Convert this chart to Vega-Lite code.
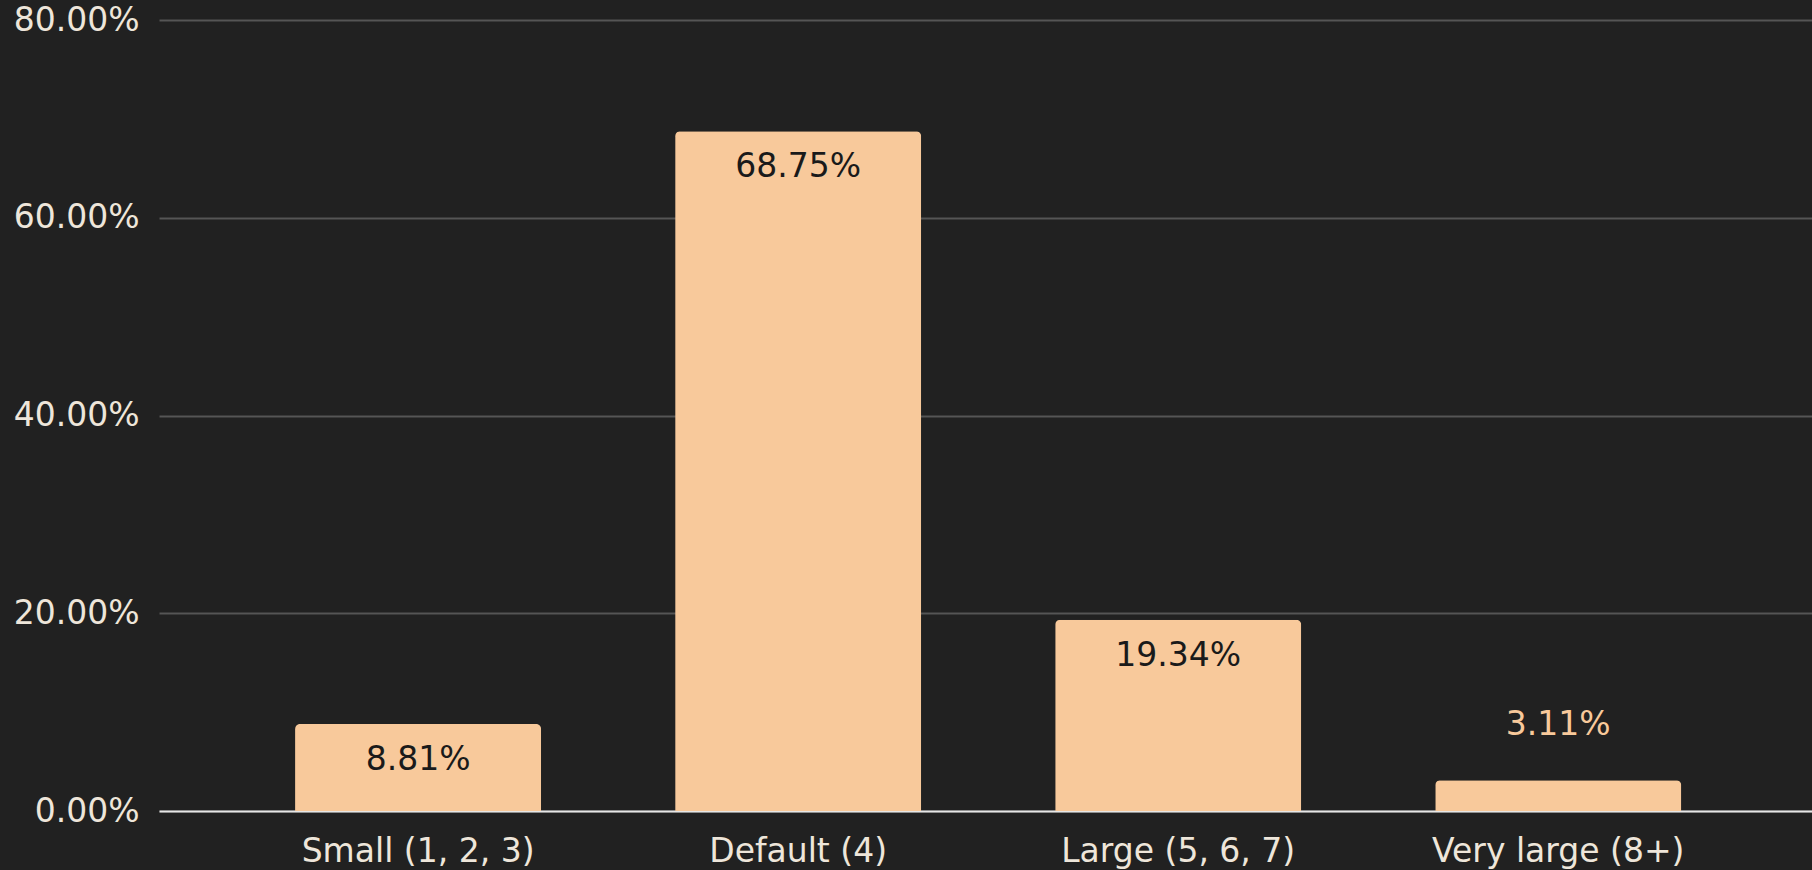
{
  "$schema": "https://vega.github.io/schema/vega-lite/v6.json",
  "width": 1653,
  "height": 791,
  "autosize": {"type": "none"},
  "padding": {"left": 159, "top": 20, "right": 0, "bottom": 59},
  "background": "#212121",
  "config": {
    "view": {"stroke": null},
    "font": "DejaVu Sans",
    "axis": {"labelFont": "DejaVu Sans", "labelFontSize": 33, "labelColor": "#EEE6DA", "labelLimit": 0}
  },
  "data": {
    "values": [
      {"size": "Small (1, 2, 3)", "share": 0.0881},
      {"size": "Default (4)", "share": 0.6875},
      {"size": "Large (5, 6, 7)", "share": 0.1934},
      {"size": "Very large (8+)", "share": 0.0311}
    ]
  },
  "encoding": {
    "x": {
      "field": "size",
      "type": "nominal",
      "sort": null,
      "scale": {"paddingInner": 0.3526, "paddingOuter": 0.351, "align": 0.51},
      "axis": {
        "title": null,
        "labelAngle": 0,
        "labelLimit": 0,
        "labelOverlap": false,
        "ticks": false,
        "tickSize": 0,
        "labelPadding": 24,
        "domain": true,
        "domainColor": "#E6E6E6",
        "domainWidth": 2,
        "grid": false
      }
    },
    "y": {
      "field": "share",
      "type": "quantitative",
      "scale": {"domain": [0, 0.8], "nice": false},
      "axis": {
        "title": null,
        "format": ".2%",
        "values": [0, 0.2, 0.4, 0.6, 0.8],
        "ticks": false,
        "tickSize": 0,
        "labelPadding": 20,
        "domain": false,
        "grid": true,
        "gridColor": "#555555",
        "gridWidth": 2
      }
    }
  },
  "layer": [
    {
      "mark": {"type": "bar", "color": "#F8C99B", "cornerRadiusTopLeft": 5, "cornerRadiusTopRight": 5}
    },
    {
      "transform": [{"filter": "datum.share >= 0.05"}],
      "mark": {"type": "text", "baseline": "middle", "align": "center", "dy": 36, "fontSize": 33, "color": "#1A1A1A", "font": "DejaVu Sans"},
      "encoding": {"text": {"field": "share", "type": "quantitative", "format": ".2%"}}
    },
    {
      "transform": [{"filter": "datum.share < 0.05"}],
      "mark": {"type": "text", "baseline": "middle", "align": "center", "dy": -55, "fontSize": 33, "color": "#F8C99B", "font": "DejaVu Sans"},
      "encoding": {"text": {"field": "share", "type": "quantitative", "format": ".2%"}}
    }
  ]
}
